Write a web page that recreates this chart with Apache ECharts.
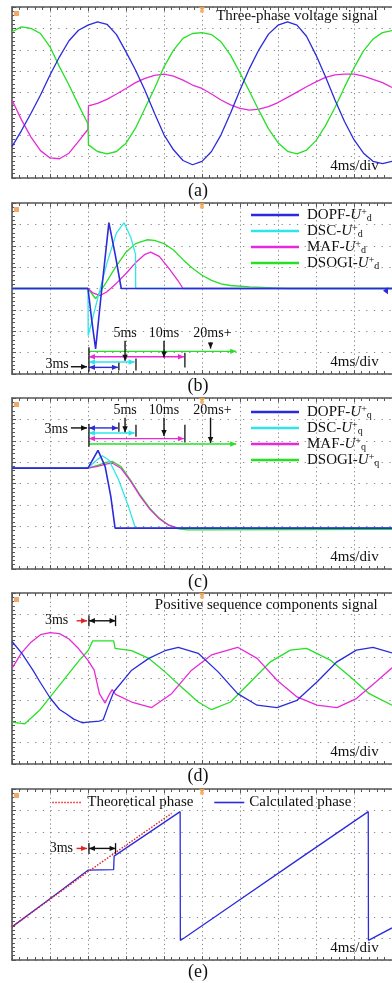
<!DOCTYPE html>
<html><head><meta charset="utf-8">
<script src="https://cdn.jsdelivr.net/npm/echarts@6/dist/echarts.min.js"></script>
<style>html,body{margin:0;padding:0;background:#fff;}#c{width:392px;height:983px;}</style>
</head><body><div id="c"></div>
<script>
// ---------- DATA (time in ms, value in divisions) ----------
// Panel (a) three-phase voltage
const aTime = [0,1,2,3,4,5,6,7,8,8.05,9,10,11,12,13,14,15,16,17,18,19,20,21,22,23,24,25,26,27,28,29,30,31,32,33,34,35,36,37,38,39,40];
const aBlue = [-2.53,-1.78,-0.97,-0.12,0.82,1.67,2.42,2.91,3.15,3.16,3.30,3.19,2.71,1.90,1.05,0.09,-0.97,-1.98,-2.68,-3.18,-3.38,-3.22,-2.76,-1.98,-0.97,0.12,1.13,2.01,2.73,3.15,3.30,3.15,2.63,1.75,0.74,-0.35,-1.36,-2.21,-2.84,-3.22,-3.33,-3.22];
const aGreen = [2.84,3.07,3.00,2.76,2.14,1.20,0.35,-0.58,-1.47,-2.45,-2.76,-2.87,-2.76,-2.37,-1.67,-0.74,0.19,1.20,1.98,2.53,2.76,2.80,2.71,2.37,1.75,0.92,0.05,-0.85,-1.70,-2.35,-2.75,-2.87,-2.70,-2.25,-1.55,-0.70,0.25,1.15,1.95,2.50,2.80,2.90];
const aMagenta = [-0.35,-1.28,-2.09,-2.72,-3.06,-3.10,-2.84,-2.29,-1.72,-0.63,-0.51,-0.32,-0.07,0.19,0.46,0.66,0.80,0.86,0.77,0.58,0.35,0.19,-0.07,-0.35,-0.58,-0.74,-0.82,-0.78,-0.66,-0.47,-0.23,0.02,0.27,0.50,0.71,0.82,0.86,0.86,0.77,0.61,0.46,0.24];

// Panel (b) d-axis positive sequence
const bNames = ['DOPF-U+d','DSC-U+d','MAF-U+d','DSOGI-U+d'];
const bDopfT = [0,8,8.4,8.8,9.5,10.2,10.9,11.5,40];
const bDopfV = [0,0,-1.5,-2.83,0.2,3.08,1.5,0,0];
const bDscT = [0,8,8.02,9,10,11,11.8,12.5,13.0,13.02,40];
const bDscV = [0,0,-2.2,-0.5,1.2,2.6,3.08,2.4,1.6,0,0];
const bMafT = [0,8,8.5,9.3,10,11,12,13,14,14.6,15.5,16.5,17.5,18,40];
const bMafV = [0,0,-0.2,-0.33,-0.15,0.25,0.7,1.2,1.6,1.70,1.5,0.95,0.35,0,0];
const bDsogiT = [0,8,8.8,9.8,10.9,12,13,14.2,15,16,17,18,19,20,21,22,23,25,27,29,40];
const bDsogiV = [0,0,-0.48,0.2,1.0,1.7,2.1,2.28,2.25,2.1,1.8,1.35,0.95,0.62,0.38,0.22,0.14,0.08,0.04,0,0];

// Panel (c) q-axis positive sequence
const cNames = ['DOPF-U+q','DSC-U+q','MAF-U+q','DSOGI-U+q'];
const cDopfT = [0,8,9.05,9.8,10.4,10.85,40];
const cDopfV = [0.72,0.72,1.55,0.8,-0.6,-2.09,-2.09];
const cDscT = [0,8,8.8,9.5,10.2,11.2,12.2,13.0,40];
const cDscV = [0.72,0.72,1.05,1.3,1.1,0.2,-1.0,-2.09,-2.09];
const cMafT = [0,8,9,10,10.6,11.5,12.5,13.5,14.5,15.5,16.5,17.5,40];
const cMafV = [0.72,0.72,0.8,0.92,0.95,0.7,0.1,-0.6,-1.2,-1.65,-1.95,-2.09,-2.09];
const cDsogiT = [0,8,9,10,10.6,11.5,12.5,13.5,14.5,15.5,16.5,17.5,18.5,40];
const cDsogiV = [0.72,0.72,0.85,1.0,1.03,0.78,0.15,-0.55,-1.15,-1.62,-1.95,-2.12,-2.17,-2.15];

// Panel (d) positive sequence components
const dMagT = [0,1,2,3,4,5,6,7,8,8.65,9.2,9.8,10.2,10.55,10.9,12.6,14.7,16.8,18.9,21,23.75,25.8,27.9,30,32.1,34.2,36.25,38.3,40];
const dMagV = [0.47,1.2,1.7,2.05,2.15,2.1,1.85,1.4,0.85,0.39,-0.71,-1.15,-0.78,-0.52,-0.74,-1.10,-1.36,-0.71,0.39,1.10,1.46,0.94,-0.08,-0.86,-1.25,-1.36,-0.94,-0.16,0.5];
const dBlueT = [0,1,2.2,3,4,5,5.7,6.5,7.4,8,9.2,9.6,10.2,10.7,12.6,14.4,16.1,17.5,19.6,21.7,23.75,25.8,27.9,30,32.1,34.2,36.25,38,40];
const dBlueV = [1.73,1.2,0.39,-0.2,-0.9,-1.45,-1.65,-1.9,-2.07,-2.04,-1.99,-1.93,-1.2,-0.63,0.39,0.94,1.30,1.46,1.18,0.31,-0.71,-1.25,-1.36,-1.02,-0.16,0.78,1.33,1.46,1.2];
const dGreenT = [0,1.35,2.9,4.3,5.7,7.1,8,8.5,10.7,10.85,12.6,14.4,16.1,17.8,19.6,21,23,25.1,27.2,29.3,31,33.5,35.6,37.6,40];
const dGreenV = [-2.04,-2.12,-1.49,-0.71,0.08,0.86,1.3,1.76,1.76,1.41,1.30,0.94,0.31,-0.39,-1.10,-1.46,-1.10,-0.16,0.78,1.33,1.41,0.86,0.08,-0.71,-1.25];

// Panel (e) phase
const eNames = ['Theoretical phase','Calculated phase'];
const eCalcT = [0,4,8,10.7,10.75,17.7,17.72,18.2,23.1,30,37.5,37.52,40];
const eCalcV = [-2.45,-1.13,0.2,0.23,0.86,2.94,-3.08,-2.95,-1.45,0.66,2.94,-3.08,-2.5];
const eTheoT = [0,8,16.8];
const eTheoV = [-2.45,0.13,2.86];

// ---------- STYLE / LAYOUT ----------
const BLUE='#2b2bdc', GREEN='#26e026', MAG='#e62ad8', CYAN='#2ee6ea', RED='#e52222';
const SERIF='"Liberation Serif","Times New Roman",serif';
const TOPS=[7,203,398,593,789], H=171, LEFT=12, W=384;
const pairs=(ts,vs)=>ts.map((t,i)=>[t,vs[i]]);

const grids=[], xAxes=[], yAxes=[];
TOPS.forEach((top,i)=>{
  grids.push({left:LEFT,top:top,width:W,height:H,show:false});
  const common={gridIndex:i,type:'value',min:0,max:40,interval:4,
    axisLabel:{show:false},
    axisLine:{show:true,onZero:false,lineStyle:{color:'#555',width:1.6}},
    axisTick:{show:true,inside:true,length:4,lineStyle:{color:'#555'}},
    minorTick:{show:true,splitNumber:5,length:3,lineStyle:{color:'#555'}}};
  xAxes.push(Object.assign({},common,{position:'bottom',
    splitLine:{show:true,lineStyle:{color:'#8a8a8a',width:1,type:[1.3,3]}}}));
  xAxes.push(Object.assign({},common,{position:'top',splitLine:{show:false}}));
  yAxes.push({gridIndex:i,type:'value',min:-4,max:4,interval:1,position:'left',
    axisLabel:{show:false},
    axisLine:{show:true,onZero:false,lineStyle:{color:'#555',width:1.6}},
    axisTick:{show:true,inside:true,length:4,lineStyle:{color:'#555'}},
    minorTick:{show:true,splitNumber:5,length:3,lineStyle:{color:'#555'}},
    splitLine:{show:true,lineStyle:{color:'#8a8a8a',width:1,type:[1.3,6.4]}}});
});

function ser(i,name,ts,vs,color,extra){
  return Object.assign({type:'line',name:name,xAxisIndex:2*i,yAxisIndex:i,data:pairs(ts,vs),
    symbol:'none',showSymbol:false,animation:false,silent:true,
    lineStyle:{color:color,width:1.3},itemStyle:{color:color}},extra||{});
}

const series=[
  ser(0,'a-magenta',aTime,aMagenta,MAG),
  ser(0,'a-green',aTime,aGreen,GREEN),
  ser(0,'a-blue',aTime,aBlue,BLUE),
  ser(1,bNames[3],bDsogiT,bDsogiV,GREEN),
  ser(1,bNames[2],bMafT,bMafV,MAG),
  ser(1,bNames[1],bDscT,bDscV,CYAN),
  ser(1,bNames[0],bDopfT,bDopfV,BLUE,{lineStyle:{color:BLUE,width:1.6}}),
  ser(2,cNames[3],cDsogiT,cDsogiV,GREEN),
  ser(2,cNames[2],cMafT,cMafV,MAG),
  ser(2,cNames[1],cDscT,cDscV,CYAN),
  ser(2,cNames[0],cDopfT,cDopfV,BLUE,{lineStyle:{color:BLUE,width:1.6}}),
  ser(3,'d-green',dGreenT,dGreenV,GREEN),
  ser(3,'d-magenta',dMagT,dMagV,MAG),
  ser(3,'d-blue',dBlueT,dBlueV,BLUE),
  ser(4,eNames[1],eCalcT,eCalcV,BLUE),
  ser(4,eNames[0],eTheoT,eTheoV,RED,{lineStyle:{color:RED,width:1.4,type:[1.5,1.5]}})
];

const richTxt={
  n:{fontFamily:SERIF,fontSize:15,lineHeight:16,color:'#111'},
  u:{fontFamily:SERIF,fontSize:15,lineHeight:16,color:'#111',fontStyle:'italic'},
  p:{fontFamily:SERIF,fontSize:10,lineHeight:10,color:'#111',verticalAlign:'top'},
  s:{fontFamily:SERIF,fontSize:10,lineHeight:10,color:'#111',verticalAlign:'bottom'}
};
function fmt(name){const k=name.split('-');const sub=name.slice(-1);return '{n|'+k[0]+'-}{u|U}{p|+}{s|'+sub+'}';}
function dq(top,names){return {orient:'vertical',left:251,top:top,padding:0,itemWidth:48,itemHeight:2.5,itemGap:0,
  data:names.map((n,k)=>({name:n,itemStyle:{color:[BLUE,CYAN,MAG,GREEN][k]}})),
  formatter:fmt,selectedMode:false,icon:'rect',
  textStyle:{rich:richTxt,padding:[0,0,0,3]},itemStyle:{borderWidth:0}};}

const legends=[
  dq(207,bNames),
  dq(404,cNames),
  {orient:'horizontal',left:51.5,top:795,padding:0,itemWidth:30,itemHeight:14,itemGap:20,data:eNames,selectedMode:false,
   textStyle:{fontFamily:SERIF,fontSize:15,color:'#111'},lineStyle:{width:1.6},itemStyle:{opacity:0}}
];

const chart=echarts.init(document.getElementById('c'),null,{renderer:'canvas'});
chart.setOption({animation:false,backgroundColor:'#fff',grid:grids,xAxis:xAxes,yAxis:yAxes,series:series,legend:legends});

// ---------- annotations (in data units) ----------
const px=(i,t,v)=>chart.convertToPixel({xAxisIndex:2*i,yAxisIndex:i},[t,v]);
const G=[];
function seg(i,t1,v1,t2,v2,color,w){const a=px(i,t1,v1),b=px(i,t2,v2);
  G.push({type:'line',z:100,shape:{x1:a[0],y1:a[1],x2:b[0],y2:b[1]},style:{stroke:color,lineWidth:w||1.3}});return [a,b];}
function head(p,dx,dy,color){const L=6,Wd=2.7;const bx=p[0]-dx*L,by=p[1]-dy*L;
  G.push({type:'polygon',z:101,shape:{points:[[p[0],p[1]],[bx-dy*Wd,by+dx*Wd],[bx+dy*Wd,by-dx*Wd]]},style:{fill:color}});}
function arrow(i,t1,v1,t2,v2,color,both){const [a,b]=seg(i,t1,v1,t2,v2,color,1.4);
  const L=Math.hypot(b[0]-a[0],b[1]-a[1]);const dx=(b[0]-a[0])/L,dy=(b[1]-a[1])/L;
  head(b,dx,dy,color);if(both)head(a,-dx,-dy,color);}
function txt(i,t,v,s,size,align){const p=px(i,t,v);
  G.push({type:'text',z:102,x:p[0],y:p[1],style:{text:s,fontFamily:SERIF,fontSize:size||14,fill:'#111',align:align||'center',verticalAlign:'middle'}});}

// panel (b)
const bSpans=[[8.1,23.6,-2.94,GREEN,false],[8.1,18.1,-3.19,MAG,true],[8.1,12.9,-3.44,CYAN,true],[8.1,11.15,-3.69,BLUE,true]];
const bBars=[[8.1,-2.75,-3.9],[18.2,-3.0,-3.7],[13.05,-3.28,-3.84],[11.25,-3.47,-3.84]];
const bDown=[[11.9,-2.44,-3.38],[16,-2.44,-3.23],[20.9,-2.52,-2.81]];
bSpans.forEach(s=>arrow(1,s[0],s[2],s[1],s[2],s[3],s[4]));
bBars.forEach(b=>seg(1,b[0],b[1],b[0],b[2],'#111',1.3));
bDown.forEach(d=>arrow(1,d[0],d[1],d[0],d[2],'#111',false));
arrow(1,6.2,-3.66,7.9,-3.66,'#111',false);
txt(1,4.75,-3.56,'3ms');txt(1,11.9,-2.1,'5ms');txt(1,16,-2.1,'10ms');txt(1,21.1,-2.1,'20ms+');

// panel (c)
const cSpans=[[8.1,23.6,1.85,GREEN,false],[8.1,18.1,2.10,MAG,true],[8.1,12.9,2.36,CYAN,true],[8.1,11.15,2.60,BLUE,true]];
const cBars=[[8.1,2.78,1.72],[18.2,2.75,1.92],[13.05,2.75,2.19],[11.25,2.85,2.42]];
const cDown=[[11.9,3.08,2.4],[16,3.08,2.22],[20.9,3.08,1.9]];
cSpans.forEach(s=>arrow(2,s[0],s[2],s[1],s[2],s[3],s[4]));
cBars.forEach(b=>seg(2,b[0],b[1],b[0],b[2],'#111',1.3));
cDown.forEach(d=>arrow(2,d[0],d[1],d[0],d[2],'#111',false));
arrow(2,6.2,2.6,7.9,2.6,'#111',false);
txt(2,4.66,2.55,'3ms');txt(2,11.9,3.4,'5ms');txt(2,16,3.4,'10ms');txt(2,21.1,3.4,'20ms+');

// panels (d),(e) 3ms markers
[[3,2.70,4.7],[4,1.22,5.2]].forEach(([i,v,tt])=>{
  arrow(i,6.8,v,7.9,v,RED,false);
  arrow(i,8.1,v,10.9,v,'#111',true);
  seg(i,8.1,v+0.25,8.1,v-0.25,'#111',1.3);seg(i,10.9,v+0.25,10.9,v-0.25,'#111',1.3);
  txt(i,tt,v,'3ms');
});

// texts
txt(0,38.5,3.58,'Three-phase voltage signal',15,'right');
txt(3,38.5,3.45,'Positive sequence components signal',15,'right');
for(let i=0;i<5;i++){txt(i,38.6,-3.45,'4ms/div',15,'right');}
const subLabels=['(a)','(b)','(c)','(d)','(e)'];
const subY=[191.5,386.5,582.5,776.5,972.5];
subLabels.forEach((s,k)=>G.push({type:'text',x:198,y:subY[k],style:{text:s,fontFamily:SERIF,fontSize:18,fill:'#111',align:'center',verticalAlign:'middle'}}));
// scope markers
for(let i=0;i<5;i++){
  const p=px(i,20,4);
  G.push({type:'polygon',z:103,shape:{points:[[p[0]-3,p[1]],[p[0]+3,p[1]],[p[0],p[1]+4]]},style:{fill:'#f0a040'}});
  G.push({type:'circle',z:103,shape:{cx:p[0],cy:p[1]+4,r:2},style:{fill:'#f3b070'}});
  const q=px(i,0,4);
  G.push({type:'rect',z:103,shape:{x:q[0]+2,y:q[1]+4,width:5,height:5},style:{fill:'#f2a868'}});
}
const bm=px(1,40,-0.1);
G.push({type:'polygon',z:103,shape:{points:[[bm[0]-9,bm[1]],[bm[0]-4,bm[1]-3.5],[bm[0]-4,bm[1]+3.5]]},style:{fill:BLUE}});

chart.setOption({graphic:G});
</script></body></html>
